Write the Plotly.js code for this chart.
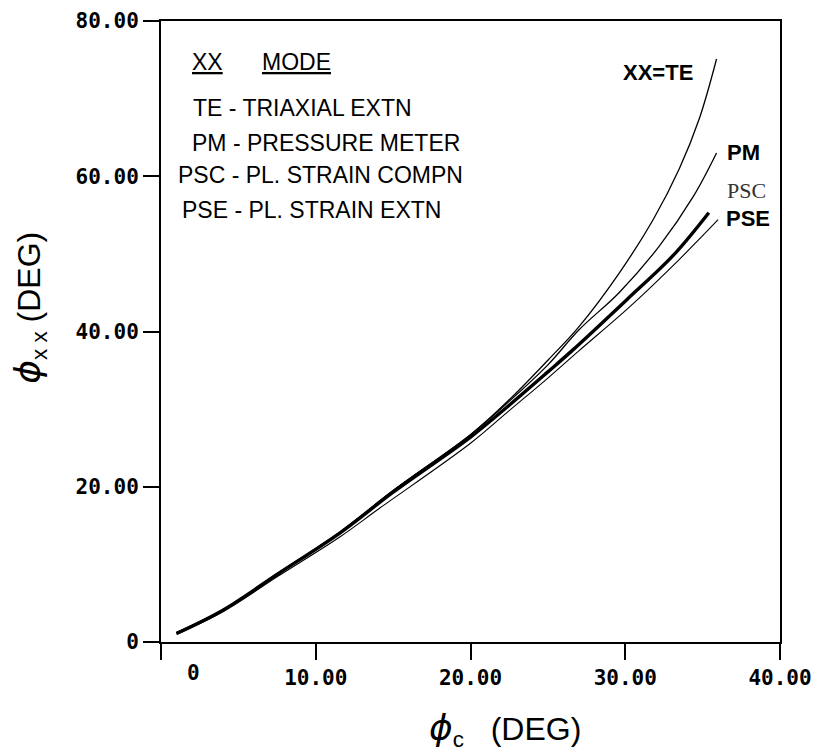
<!DOCTYPE html>
<html>
<head>
<meta charset="utf-8">
<script src="https://cdn.plot.ly/plotly-3.0.1.min.js"></script>
<style>
  html, body { margin: 0; padding: 0; background: #ffffff; }
  #chart { width: 823px; height: 756px; }
</style>
</head>
<body>
<div id="chart"></div>
<script>
// ---- Data (phi_c in degrees -> phi_xx in degrees) ----
const tePhiC  = [1.0, 4.0, 7.5, 11.6, 15.0, 20.0, 22.5, 25.0, 27.0, 29.6, 31.8, 33.5, 34.8, 35.9];
const tePhiXX = [1.2, 4.1, 8.8, 14.2, 19.5, 26.7, 31.2, 36.3, 40.6, 47.5, 54.4, 61.0, 67.5, 75.1];

const pmPhiC  = [1.0, 4.0, 7.5, 11.6, 15.0, 20.0, 22.5, 25.0, 27.0, 29.6, 32.2, 34.4, 35.9];
const pmPhiXX = [1.2, 4.1, 8.8, 14.2, 19.5, 26.7, 31.0, 35.7, 40.2, 45.0, 51.0, 57.4, 63.0];

const pscPhiC  = [1.0, 4.0, 7.5, 11.6, 15.0, 20.0, 22.5, 25.0, 26.6, 30.1, 33.1, 35.4];
const pscPhiXX = [1.1, 4.1, 8.7, 14.1, 19.3, 26.4, 30.5, 34.8, 37.6, 44.1, 49.8, 55.3];

const psePhiC  = [1.0, 4.0, 7.5, 11.6, 14.1, 20.0, 22.5, 25.0, 27.0, 30.3, 33.5, 36.0];
const psePhiXX = [1.0, 3.9, 8.4, 13.6, 17.2, 25.6, 29.8, 34.0, 37.5, 43.2, 49.3, 54.4];

const xTickVals = [0, 10, 20, 30, 40];
const xTickText = ['', '10.00', '20.00', '30.00', '40.00'];
const yTickVals = [0, 20, 40, 60, 80];
const yTickText = ['0', '20.00', '40.00', '60.00', '80.00'];

const legendLines = [
  '<u>XX</u>',
  '<u>MODE</u>',
  'TE - TRIAXIAL EXTN',
  'PM - PRESSURE METER',
  'PSC - PL. STRAIN COMPN',
  'PSE - PL. STRAIN EXTN'
];
const curveLabels = ['XX=TE', 'PM', 'PSC', 'PSE'];

// ---- Traces ----
function curve(x, y, w) {
  return {
    x: x, y: y, type: 'scatter', mode: 'lines',
    line: { color: '#000', width: w, shape: 'spline', smoothing: 1 },
    hoverinfo: 'skip', showlegend: false
  };
}
const traces = [
  curve(tePhiC, tePhiXX, 1.3),
  curve(pmPhiC, pmPhiXX, 1.3),
  curve(pscPhiC, pscPhiXX, 3.4),
  curve(psePhiC, psePhiXX, 1.1)
];

const textFont = { family: 'Liberation Sans, Arial, sans-serif', size: 23, color: '#000' };
const labelFont = { family: 'Liberation Sans, Arial, sans-serif', size: 22, color: '#000', weight: 'bold' };
const tickFont = { family: 'DejaVu Sans Mono, monospace', size: 21, color: '#000', weight: 'bold' };
const titleFont = { family: 'Liberation Sans, Arial, sans-serif', size: 32, color: '#000' };
const phiSpan = '<span style="font-family:DejaVu Sans;font-size:36px"><i>\u03D5</i></span>';

function ann(text, x, y, font, xanchor) {
  return { text: text, x: x, y: y, xref: 'x', yref: 'y', showarrow: false,
           font: font, xanchor: xanchor || 'left', yanchor: 'middle' };
}

const annotations = [
  ann(legendLines[0], 1.9, 74.75, textFont),
  ann(legendLines[1], 6.4, 74.75, textFont),
  ann(legendLines[2], 1.95, 68.75, textFont),
  ann(legendLines[3], 1.9, 64.27, textFont),
  ann(legendLines[4], 1.0, 60.15, textFont),
  ann(legendLines[5], 1.25, 55.64, textFont),
  ann(curveLabels[0], 32.1, 73.4, labelFont, 'center'),
  ann(curveLabels[1], 37.65, 63.0, labelFont, 'center'),
  ann(curveLabels[2], 37.85, 58.2, { family: 'Liberation Serif, serif', size: 22, color: '#333' }, 'center'),
  ann(curveLabels[3], 37.95, 54.6, labelFont, 'center'),
  // x tick label "0", printed offset to the right of the axis in the original
  { text: '0', x: 2.1, y: 0, xref: 'x', yref: 'y', yshift: -31, showarrow: false,
    font: tickFont, xanchor: 'center', yanchor: 'middle' },
  // axis titles
  { text: phiSpan + '<sub>c</sub>\u00a0\u00a0\u00a0(DEG)',
    x: 0.556, y: -0.141, xref: 'paper', yref: 'paper', showarrow: false,
    font: titleFont, xanchor: 'center', yanchor: 'middle' },
  { text: phiSpan + '<sub>x x</sub>\u00a0(DEG)',
    x: -0.212, y: 0.538, xref: 'paper', yref: 'paper', showarrow: false, textangle: -90,
    font: titleFont, xanchor: 'center', yanchor: 'middle' }
];

const layout = {
  width: 823, height: 756,
  margin: { l: 161, r: 43, t: 21, b: 114, pad: 0 },
  paper_bgcolor: '#fff', plot_bgcolor: '#fff',
  showlegend: false,
  xaxis: {
    range: [0, 40], tickvals: xTickVals, ticktext: xTickText,
    ticks: 'outside', ticklen: 16, tickwidth: 2, tickcolor: '#000',
    showline: true, linewidth: 2, linecolor: '#000', mirror: true,
    showgrid: false, zeroline: false, tickfont: tickFont, fixedrange: true
  },
  yaxis: {
    range: [0, 80], tickvals: yTickVals, ticktext: yTickText,
    ticks: 'outside', ticklen: 16, tickwidth: 2, tickcolor: '#000',
    showline: true, linewidth: 2, linecolor: '#000', mirror: true,
    showgrid: false, zeroline: false, tickfont: tickFont, fixedrange: true
  },
  annotations: annotations
};

Plotly.newPlot('chart', traces, layout, { displayModeBar: false, staticPlot: true });
</script>
</body>
</html>
